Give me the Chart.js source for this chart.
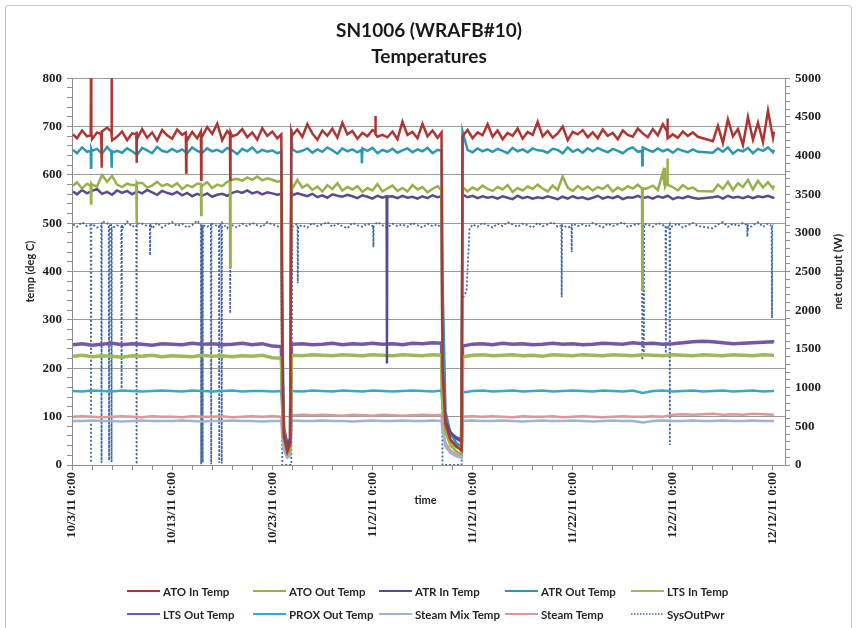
<!DOCTYPE html>
<html>
<head>
<meta charset="utf-8">
<script src="https://cdn.jsdelivr.net/npm/chart.js@4.4.0/dist/chart.umd.min.js"></script>
<style>
    html, body { margin: 0; padding: 0; background: #fff; }
    #wrap { position: relative; width: 858px; height: 628px; overflow: hidden; }
    #frame { position: absolute; left: 5px; top: 5px; width: 845px; height: 640px; border: 1px solid #c9c9c9; border-radius: 3px; }
    #chartCanvas { position: absolute; left: 0; top: 0; }
</style>
</head>
<body>
<div id="wrap">
    <div id="frame"></div>
    <canvas id="chartCanvas" width="858" height="628"></canvas>
</div>
<script>
// x values are days after 10/3/11 0:00
const dateTicks = ['10/3/11 0:00', '10/13/11 0:00', '10/23/11 0:00', '11/2/11 0:00',
    '11/12/11 0:00', '11/22/11 0:00', '12/2/11 0:00', '12/12/11 0:00'];

// half-day timeline for the noisy hot-side temperatures
const tFine = [
    0.1, 0.5, 1, 1.5, 2, 2.5, 3, 3.5, 4, 4.5,
    5, 5.5, 6, 6.5, 7, 7.5, 8, 8.5, 9, 9.5,
    10, 10.5, 11, 11.5, 12, 12.5, 13, 13.5, 14, 14.5,
    15, 15.5, 16, 16.5, 17, 17.5, 18, 18.5, 19, 19.5,
    20, 20.5, 20.9, 21, 21.15, 21.5, 21.8, 21.9, 22, 22.5,
    23, 23.5, 24, 24.5, 25, 25.5, 26, 26.5, 27, 27.5,
    28, 28.5, 29, 29.5, 30, 30.5, 31, 31.5, 32, 32.5,
    33, 33.5, 34, 34.5, 35, 35.5, 36, 36.5, 36.9, 37,
    37.3, 37.8, 38.4, 38.9, 39, 39.5, 40, 40.5, 41, 41.5,
    42, 42.5, 43, 43.5, 44, 44.5, 45, 45.5, 46, 46.5,
    47, 47.5, 48, 48.5, 49, 49.5, 50, 50.5, 51, 51.5,
    52, 52.5, 53, 53.5, 54, 54.5, 55, 55.5, 56, 56.5,
    57, 57.5, 58, 58.5, 59, 59.5, 60, 60.5, 61, 61.5,
    62, 62.5, 64, 64.5, 65, 65.5, 66, 66.5, 67, 67.5,
    68, 68.5, 69, 69.5, 70, 70.1
];

const atoIn = [
    684, 676, 692, 680, 674, 688, 690, 698, 672, 679,
    690, 672, 686, 675, 695, 677, 688, 671, 693, 682,
    675, 694, 683, 672, 689, 676, 680, 699, 685, 706,
    672, 691, 680, 684, 695, 678, 688, 673, 697, 681,
    690, 676, 684, 240, 60, 28, 45, 690, 682, 694,
    679, 705, 686, 673, 692, 681, 696, 677, 708, 684,
    691, 675, 687, 680, 693, 679, 683, 678, 690, 674,
    710, 683, 689, 676, 706, 680, 692, 677, 688, 200,
    85, 52, 38, 30, 680, 693, 676, 688, 682, 705,
    679, 692, 674, 687, 681, 696, 675, 689, 683, 710,
    680, 691, 677, 686, 700, 672, 689, 684, 693, 678,
    688, 676, 694, 681, 687, 674, 692, 683, 679, 696,
    686, 678, 695, 682, 705, 676, 684, 677, 690, 681,
    688, 679, 670, 702, 666, 715, 680, 695, 662, 720,
    673, 708, 668, 733, 677, 690
];

const atrOut = [
    652, 645, 657, 648, 650, 654, 644, 658, 646, 650,
    646, 655, 649, 642, 656, 651, 645, 658, 650, 647,
    654, 648, 653, 645, 657, 650, 646, 655, 649, 652,
    647, 656, 651, 643, 654, 649, 657, 646, 652, 648,
    651, 645, 648, 350, 70, 32, 50, 695, 653, 647,
    650, 655, 646, 653, 648, 657, 651, 644, 655, 649,
    653, 647, 655, 650, 656, 645, 652, 648, 654, 646,
    651, 655, 647, 653, 649, 656, 645, 652, 650, 380,
    110, 65, 45, 38, 690, 652, 647, 655, 649, 653,
    648, 654, 650, 645, 656, 649, 653, 647, 655, 651,
    650, 646, 654, 652, 645, 657, 648, 653, 646, 655,
    649, 656, 651, 647, 654, 650, 645, 653, 657, 648,
    657, 652, 648, 655, 649, 653, 646, 654, 650, 647,
    653, 648, 646, 655, 648, 657, 644, 652, 649, 656,
    645, 654, 650, 657, 647, 652
];

const atoOut = [
    578, 585, 572, 582, 580, 576, 600, 586, 598, 580,
    575, 582, 579, 583, 584, 574, 578, 586, 577, 581,
    576, 583, 571, 579, 575, 582, 578, 585, 573, 580,
    577, 586, 590, 592, 588, 595, 590, 597, 589, 593,
    590, 586, 588, 200, 55, 22, 30, 585, 572, 590,
    574, 580, 569, 576, 566, 579, 571, 583, 568, 575,
    570, 577, 565, 573, 568, 581, 566, 572, 578, 567,
    573, 566, 579, 570, 575, 564, 571, 577, 568, 150,
    70, 40, 28, 22, 575, 566, 574, 569, 578, 571,
    567, 575, 570, 579, 565, 573, 568, 576, 571, 580,
    572, 566, 578, 569, 597, 574, 567, 577, 570, 576,
    568, 575, 571, 579, 566, 574, 569, 577, 572, 580,
    570, 573, 578, 569, 605, 580, 575, 568, 579, 571,
    574, 567, 566, 580, 571, 586, 569, 583, 575, 590,
    570, 588, 574, 585, 572, 578
];

const atrIn = [
    566, 560, 569, 562, 567, 571, 561, 565, 559, 568,
    563, 567, 560, 566, 562, 569, 564, 559, 567, 563,
    560, 565, 558, 563, 556, 561, 557, 562, 555, 559,
    561, 557, 563, 566, 563, 568, 562, 565, 560, 564,
    562, 559, 561, 180, 65, 40, 55, 565, 558, 562,
    559, 556, 561, 554, 558, 553, 560, 557, 555, 559,
    556, 552, 558, 555, 551, 557, 553, 555, 556, 552,
    557, 553, 555, 551, 556, 552, 558, 554, 556, 160,
    90, 68, 55, 48, 560, 554, 557, 552, 556, 553,
    555, 551, 556, 553, 550, 557, 552, 555, 551, 554,
    552, 556, 553, 550, 555, 551, 556, 552, 554, 550,
    553, 557, 551, 555, 552, 556, 550, 554, 553, 557,
    552, 555, 551, 556, 553, 557, 550, 554, 552, 556,
    553, 551, 554, 556, 551, 557, 553, 555, 552, 556,
    552, 556, 554, 557, 553, 555
];

// short spikes and dips, [day, value]
const atoInEvents = [
    [1.87, 682], [1.9, 830], [1.93, 688],
    [2.92, 684], [2.95, 615], [2.98, 690],
    [3.92, 690], [3.95, 830], [3.98, 680],
    [6.42, 684], [6.45, 625], [6.48, 690],
    [11.37, 688], [11.4, 605], [11.43, 680],
    [12.87, 690], [12.9, 590], [12.93, 682],
    [15.77, 684], [15.8, 590], [15.83, 688],
    [30.27, 690], [30.3, 722], [30.33, 684],
    [59.42, 690], [59.45, 717], [59.48, 684]
];
const atrOutEvents = [
    [1.87, 650], [1.9, 615], [1.93, 654],
    [3.92, 648], [3.95, 615], [3.98, 652],
    [28.92, 652], [28.95, 624], [28.98, 648],
    [56.92, 650], [56.95, 620], [56.98, 655]
];
const atoOutEvents = [
    [1.87, 578], [1.9, 541], [1.93, 582],
    [6.42, 580], [6.45, 500], [6.48, 584],
    [12.87, 582], [12.9, 517], [12.93, 576],
    [15.77, 586], [15.8, 410], [15.83, 590],
    [56.92, 572], [56.95, 362], [56.98, 575],
    [59.17, 580], [59.2, 615], [59.23, 576],
    [59.42, 584], [59.45, 634], [59.48, 578]
];
const atrInEvents = [
    [31.42, 556], [31.45, 210], [31.48, 553]
];

// daily timeline for the steadier low-side temperatures
const tCoarse = [
    0.1, 1, 2, 3, 4, 5, 6, 7, 8, 9,
    10, 11, 12, 13, 14, 15, 16, 17, 18, 19,
    20, 20.9, 21, 21.15, 21.5, 21.8, 21.9, 22, 23, 24,
    25, 26, 27, 28, 29, 30, 31, 32, 33, 34,
    35, 36, 36.9, 37, 37.3, 37.8, 38.4, 38.9, 39, 40,
    41, 42, 43, 44, 45, 46, 47, 48, 49, 50,
    51, 52, 53, 54, 55, 56, 57, 58, 59, 60,
    61, 62, 63, 64, 65, 66, 67, 68, 69, 70,
    70.1
];

const ltsIn = [
    225, 227, 224, 226, 225, 223, 226, 225, 227, 224,
    226, 225, 224, 227, 225, 226, 224, 226, 225, 227,
    222, 221, 150, 60, 30, 42, 226, 227, 226, 228,
    227, 226, 228, 227, 226, 228, 227, 226, 228, 227,
    226, 228, 227, 140, 70, 45, 38, 33, 224, 227,
    228, 226, 227, 228, 226, 227, 225, 228, 227, 226,
    228, 227, 226, 228, 227, 226, 228, 227, 226, 228,
    227, 226, 228, 227, 226, 228, 227, 226, 228, 227,
    227
];

const ltsOut = [
    249, 251, 248, 250, 252, 249, 251, 250, 248, 251,
    250, 249, 252, 250, 251, 249, 250, 252, 249, 251,
    246, 245, 160, 75, 40, 55, 248, 250, 251, 249,
    250, 252, 249, 251, 250, 252, 250, 251, 249, 252,
    251, 253, 252, 150, 85, 62, 56, 52, 246, 250,
    251, 249, 252, 250, 251, 249, 250, 252, 250, 251,
    249, 250, 252, 251, 250, 253, 251, 252, 250, 251,
    253, 255, 256, 255, 253, 251, 252, 253, 254, 255,
    254
];

const proxOut = [
    153, 152, 154, 153, 152, 154, 153, 152, 153, 154,
    153, 152, 154, 153, 152, 153, 154, 152, 153, 153,
    152, 153, 110, 55, 30, 40, 154, 153, 152, 154,
    153, 152, 154, 153, 152, 154, 153, 152, 153, 154,
    153, 152, 154, 120, 75, 50, 42, 38, 150, 153,
    154, 152, 153, 154, 152, 153, 154, 152, 153, 154,
    153, 152, 154, 153, 152, 154, 149, 153, 154, 152,
    153, 154, 152, 153, 154, 152, 153, 154, 152, 153,
    153
];

const steamMix = [
    91, 91, 92, 91, 91, 90, 91, 92, 91, 91,
    91, 92, 91, 90, 91, 91, 92, 91, 91, 90,
    91, 91, 60, 30, 15, 20, 91, 92, 91, 91,
    92, 91, 91, 90, 91, 92, 91, 91, 92, 91,
    91, 92, 91, 70, 38, 25, 18, 15, 91, 92,
    91, 91, 92, 91, 90, 91, 92, 91, 91, 92,
    91, 90, 91, 92, 91, 91, 88, 91, 92, 91,
    91, 92, 91, 91, 92, 91, 91, 92, 91, 91,
    91
];

const steamTemp = [
    100, 101, 100, 99, 100, 101, 100, 99, 101, 100,
    100, 99, 101, 100, 100, 101, 99, 100, 101, 100,
    101, 100, 70, 40, 20, 28, 102, 103, 104, 103,
    104, 103, 102, 104, 103, 102, 104, 103, 102, 103,
    104, 103, 104, 80, 45, 30, 22, 18, 100, 101,
    100, 101, 100, 99, 101, 100, 100, 101, 99, 100,
    101, 100, 99, 100, 101, 100, 100, 101, 100, 104,
    105, 104, 105, 106, 104, 105, 104, 106, 105, 104,
    105
];

// net output (W), half-day timeline plus its dips
const pwrDays = [
    0.1, 0.5, 1, 1.5, 2, 2.5, 3, 3.5, 4, 4.5,
    5, 5.5, 6, 6.5, 7, 7.5, 8, 8.5, 9, 9.5,
    10, 10.5, 11, 11.5, 12, 12.5, 13, 13.5, 14, 14.5,
    15, 15.5, 16, 16.5, 17, 17.5, 18, 18.5, 19, 19.5,
    20, 20.5, 20.9, 21, 21.5, 21.9, 22, 22.5, 23, 23.5,
    24, 24.5, 25, 25.5, 26, 26.5, 27, 27.5, 28, 28.5,
    29, 29.5, 30, 30.5, 31, 31.5, 32, 32.5, 33, 33.5,
    34, 34.5, 35, 35.5, 36, 36.5, 36.9, 37, 38, 38.9,
    39, 39.4, 39.7, 40, 40.5, 41, 41.5, 42, 42.5, 43,
    43.5, 44, 44.5, 45, 45.5, 46, 46.5, 47, 47.5, 48,
    48.5, 49, 49.5, 50, 50.5, 51, 51.5, 52, 52.5, 53,
    53.5, 54, 54.5, 55, 55.5, 56, 56.5, 57, 57.5, 58,
    58.5, 59, 59.5, 60, 60.5, 61, 61.5, 62, 62.5, 64,
    64.5, 65, 65.5, 66, 66.5, 67, 67.5, 68, 68.5, 69,
    69.5, 70
];

const pwrWatts = [
    3110, 3080, 3140, 3090, 3120, 3070, 3150, 3130, 3060, 3100,
    3050, 3150, 3080, 3120, 3120, 3090, 3060, 3130, 3070, 3110,
    3140, 3090, 3120, 3070, 3100, 3160, 3110, 3080, 3120, 3090,
    3130, 3060, 3100, 3070, 3120, 3090, 3130, 3100, 3080, 3140,
    3110, 3090, 3050, 0, 0, 0, 3080, 3120, 3100, 3070,
    3130, 3090, 3110, 3140, 3080, 3120, 3090, 3060, 3130, 3100,
    3080, 3120, 3090, 3140, 3100, 3070, 3120, 3090, 3110, 3080,
    3130, 3100, 3070, 3120, 3090, 3110, 3060, 0, 0, 0,
    2150, 2250, 3050, 3110, 3080, 3130, 3100, 3070, 3120, 3090,
    3140, 3110, 3080, 3120, 3100, 3070, 3130, 3090, 3110, 3140,
    3080, 3100, 3070, 3120, 3090, 3110, 3080, 3130, 3100, 3070,
    3120, 3090, 3110, 3140, 3080, 3100, 3120, 3070, 3110, 3080,
    3130, 3100, 3070, 3090, 3120, 3070, 3100, 3130, 3090, 3060,
    3110, 3140, 3080, 3120, 3090, 3130, 3050, 3100, 3140, 3080,
    3120, 3100
];

const pwrEvents = [
    [1.87, 3100], [1.9, 30], [1.93, 3110],
    [2.92, 3090], [2.95, 30], [2.98, 3120],
    [3.67, 3100], [3.7, 60], [3.73, 3090],
    [3.92, 3120], [3.95, 40], [3.98, 3080],
    [4.92, 3080], [4.95, 990], [4.98, 3110],
    [6.42, 3100], [6.45, 10], [6.48, 3110],
    [7.77, 3090], [7.8, 2710], [7.83, 3120],
    [12.87, 3100], [12.9, 10], [12.93, 3090],
    [13.02, 3080], [13.05, 30], [13.08, 3100],
    [13.87, 3110], [13.9, 10], [13.93, 3080],
    [14.67, 3090], [14.7, 30], [14.73, 3120],
    [14.92, 3100], [14.95, 20], [14.98, 3070],
    [15.77, 3120], [15.8, 1960], [15.83, 3090],
    [22.52, 3100], [22.55, 2350], [22.58, 3080],
    [30.07, 3100], [30.1, 2815], [30.13, 3090],
    [48.87, 3100], [48.9, 2170], [48.93, 3080],
    [49.87, 3090], [49.9, 2750], [49.93, 3110],
    [56.92, 3090], [56.95, 1356], [56.98, 3100],
    [57.07, 3080], [57.1, 1400], [57.13, 3110],
    [59.27, 3100], [59.3, 1446], [59.33, 3090],
    [59.67, 3110], [59.7, 258], [59.73, 3080],
    [67.42, 3100], [67.45, 2950], [67.48, 3120],
    [69.87, 3090], [69.9, 1900], [69.93, 3110]
];

window.onload = function () {
    let ctx = document.getElementById('chartCanvas').getContext('2d');

    let toPoints = function (days, vals, events) {
        let pts = days.map(function (d, i) { return { x: d, y: vals[i] }; });
        (events || []).forEach(function (e) { pts.push({ x: e[0], y: e[1] }); });
        pts.sort(function (a, b) { return a.x - b.x; });
        return pts;
    };

    let line = function (label, pts, color, width, extra) {
        let ds = {
            label: label,
            data: pts,
            borderColor: color,
            backgroundColor: color,
            borderWidth: width,
            pointRadius: 0,
            tension: 0,
            yAxisID: 'y'
        };
        return Object.assign(ds, extra || {});
    };

    let tickFont = { family: 'Liberation Serif', size: 13, weight: 'bold' };
    let axisGray = '#8e8e8e';

    // right axis title, the "time" label and the 5-column legend
    let extras = {
        id: 'extras',
        afterDraw: function (chart) {
            let c = chart.ctx;
            let area = chart.chartArea;
            c.save();
            c.fillStyle = '#262626';
            c.font = 'bold 11px Lato';
            c.textAlign = 'center';
            c.textBaseline = 'middle';
            c.fillText('time', (area.left + area.right) / 2 - 3, area.bottom + 35);

            c.translate(chart.scales.y1.right - 16, (area.top + area.bottom) / 2);
            c.rotate(-Math.PI / 2);
            c.font = 'bold 11.5px Lato';
            c.fillText('net output (W)', 0, 0);
            c.restore();

            c.save();
            c.font = 'bold 11.5px Lato';
            c.textAlign = 'left';
            c.textBaseline = 'middle';
            chart.data.datasets.forEach(function (ds, i) {
                let x = 127 + (i % 5) * 126;
                let y = 591 + Math.floor(i / 5) * 23;
                c.strokeStyle = ds.borderColor;
                c.lineWidth = ds.borderDash ? 1.5 : 2;
                c.setLineDash(ds.borderDash ? [1.5, 1.5] : []);
                c.beginPath();
                c.moveTo(x, y);
                c.lineTo(x + 33, y);
                c.stroke();
                c.setLineDash([]);
                c.fillStyle = '#262626';
                c.fillText(ds.label, x + 36, y + 1);
            });
            c.restore();
        }
    };

    let config = {
        type: 'line',
        data: {
            datasets: [
                line('ATO In Temp', toPoints(tFine, atoIn, atoInEvents), '#AE3632', 2.5),
                line('ATO Out Temp', toPoints(tFine, atoOut, atoOutEvents), '#98B04A', 2.5),
                line('ATR In Temp', toPoints(tFine, atrIn, atrInEvents), '#5C4A8E', 2.5),
                line('ATR Out Temp', toPoints(tFine, atrOut, atrOutEvents), '#2A98B2', 2.5),
                line('LTS In Temp', toPoints(tCoarse, ltsIn), '#9BBB59', 3.5),
                line('LTS Out Temp', toPoints(tCoarse, ltsOut), '#7458A6', 3.5),
                line('PROX Out Temp', toPoints(tCoarse, proxOut), '#34AACA', 2.5),
                line('Steam Mix Temp', toPoints(tCoarse, steamMix), '#9DB4D2', 2.5),
                line('Steam Temp', toPoints(tCoarse, steamTemp), '#DA9896', 2.5),
                line('SysOutPwr', toPoints(pwrDays, pwrWatts, pwrEvents), '#44699F', 1.8, { yAxisID: 'y1', borderDash: [2, 2] })
            ]
        },
        options: {
            responsive: false,
            animation: false,
            layout: { padding: { left: 4, right: 4, top: 0, bottom: 8 } },
            plugins: {
                legend: { display: false },
                tooltip: { enabled: false },
                title: {
                    display: true,
                    text: ['SN1006 (WRAFB#10)', 'Temperatures'],
                    color: '#1a1a1a',
                    font: { family: 'Lato', size: 19, weight: 'bold', lineHeight: 1.35 },
                    padding: { top: 18, bottom: 9 }
                }
            },
            scales: {
                x: {
                    type: 'linear',
                    min: 0,
                    max: 71.2,
                    afterFit: function (scale) { scale.height = 155; },
                    border: { color: axisGray },
                    grid: { drawOnChartArea: false, color: axisGray, tickLength: 5 },
                    ticks: {
                        stepSize: 2,
                        autoSkip: false,
                        includeBounds: false,
                        minRotation: 90,
                        maxRotation: 90,
                        padding: 2,
                        color: '#1e1e1e',
                        font: tickFont,
                        callback: function (v) { return v % 10 === 0 ? dateTicks[v / 10] : ''; }
                    }
                },
                y: {
                    position: 'left',
                    min: 0,
                    max: 800,
                    afterFit: function (scale) { scale.width = 68; },
                    border: { color: axisGray },
                    grid: {
                        color: function (c) { return c.tick && c.tick.value % 100 === 0 ? '#9a9a9a' : 'rgba(0,0,0,0)'; },
                        tickColor: axisGray,
                        tickLength: 5
                    },
                    ticks: {
                        stepSize: 20,
                        autoSkip: false,
                        padding: 5,
                        color: '#1e1e1e',
                        font: tickFont,
                        callback: function (v) { return v % 100 === 0 ? v : ''; }
                    },
                    title: {
                        display: true,
                        text: 'temp (deg C)',
                        color: '#262626',
                        font: { family: 'Lato', size: 11, weight: 'bold' },
                        padding: { top: 20, bottom: 0 }
                    }
                },
                y1: {
                    position: 'right',
                    min: 0,
                    max: 5000,
                    afterFit: function (scale) { scale.width = 69; },
                    border: { color: axisGray },
                    grid: { drawOnChartArea: false, color: axisGray, tickLength: 5 },
                    ticks: {
                        stepSize: 100,
                        autoSkip: false,
                        padding: 5,
                        color: '#1e1e1e',
                        font: tickFont,
                        callback: function (v) { return v % 500 === 0 ? v : ''; }
                    }
                }
            }
        },
        plugins: [extras]
    };

    new Chart(ctx, config);
};
</script>
</body>
</html>
